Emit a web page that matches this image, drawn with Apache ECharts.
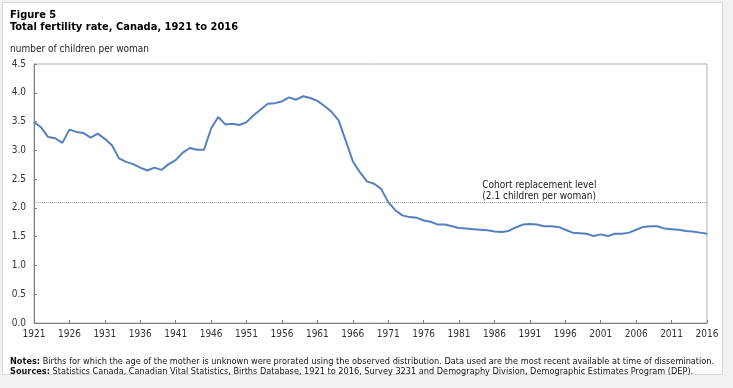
<!DOCTYPE html>
<html>
<head>
<meta charset="utf-8">
<script src="https://cdn.jsdelivr.net/npm/echarts@6/dist/echarts.min.js"></script>
<style>
html,body{margin:0;padding:0;background:#f2f2f2;}
#chart{position:absolute;left:0;top:0;width:733px;height:388px;}
</style>
</head>
<body>
<div id="chart"></div>
<script>
// Data
const firstYear = 1921;
const lastYear = 2016;
const years = [];
for (let y = firstYear; y <= lastYear; y++) years.push(String(y));
const fertilityRate = [
  3.49,3.40,3.23,3.21,3.13,3.36,3.32,3.30,3.22,3.29,
  3.20,3.09,2.86,2.80,2.76,2.70,2.65,2.70,2.66,2.76,
  2.83,2.96,3.04,3.01,3.01,3.38,3.58,3.45,3.46,3.44,
  3.49,3.61,3.71,3.81,3.82,3.85,3.92,3.88,3.94,3.91,
  3.86,3.77,3.67,3.52,3.17,2.81,2.62,2.46,2.42,2.33,
  2.10,1.96,1.87,1.84,1.83,1.78,1.76,1.71,1.71,1.68,
  1.65,1.64,1.63,1.62,1.61,1.59,1.58,1.60,1.66,1.71,
  1.72,1.71,1.68,1.68,1.67,1.62,1.57,1.56,1.55,1.51,
  1.54,1.51,1.55,1.55,1.57,1.62,1.67,1.68,1.68,1.64,
  1.63,1.62,1.60,1.59,1.57,1.55
];
const replacementLevel = 2.1;
const replacementLabel = ['Cohort replacement level', '(2.1 children per woman)'];
const replacementLabelYear = '1984';
const yTicks = [0, 0.5, 1, 1.5, 2, 2.5, 3, 3.5, 4, 4.5];
const titleLines = ['Figure 5', 'Total fertility rate, Canada, 1921 to 2016'];
const yAxisTitle = 'number of children per woman';
const notesText = 'Births for which the age of the mother is unknown were prorated using the observed distribution. Data used are the most recent available at time of dissemination.';
const sourcesText = 'Statistics Canada, Canadian Vital Statistics, Births Database, 1921 to 2016, Survey 3231 and Demography Division, Demographic Estimates Program (DEP).';

const FONT = '"DejaVu Sans Condensed", "DejaVu Sans", sans-serif';
const chart = echarts.init(document.getElementById('chart'), null, {renderer: 'canvas'});
chart.setOption({
  backgroundColor: 'transparent',
  animation: false,
  graphic: [
    {type: 'rect', left: 2, top: 2, shape: {width: 720, height: 372}, style: {fill: '#ffffff', stroke: '#d8d8d8', lineWidth: 1}, z: -10},
    {type: 'text', left: 10, top: 9, style: {text: titleLines.join('\n'), font: 'bold 11px ' + FONT, fill: '#000', lineHeight: 12}},
    {type: 'text', left: 10, top: 44, style: {text: yAxisTitle, font: '10px ' + FONT, fill: '#222'}},
    {type: 'text', left: 10, top: 357, style: {
      text: '{b|Notes:} ' + notesText + '\n{b|Sources:} ' + sourcesText,
      font: '9.1px ' + FONT, fill: '#111', lineHeight: 10,
      rich: {b: {font: 'bold 9.1px ' + FONT, fill: '#111'}}
    }}
  ],
  grid: {left: 34, right: 26, top: 64, bottom: 65, show: true, borderColor: '#b0b0b0', borderWidth: 1, containLabel: false},
  xAxis: {
    type: 'category', data: years, boundaryGap: false,
    axisLine: {show: true, lineStyle: {color: '#808080', width: 1}},
    axisTick: {show: true, inside: true, length: 3, interval: 4, lineStyle: {color: '#808080'}},
    axisLabel: {interval: 4, color: '#333', fontFamily: FONT, fontSize: 10, margin: 6},
    splitLine: {show: false}
  },
  yAxis: {
    type: 'value', min: 0, max: 4.5, interval: 0.5,
    axisLine: {show: true, lineStyle: {color: '#808080', width: 1}},
    axisTick: {show: true, inside: true, length: 3, lineStyle: {color: '#808080'}},
    axisLabel: {color: '#333', fontFamily: FONT, fontSize: 10, margin: 8, formatter: v => v.toFixed(1)},
    splitLine: {show: false}
  },
  series: [{
    type: 'line', data: fertilityRate, showSymbol: false, symbol: 'none',
    lineStyle: {color: '#5580c0', width: 2}, z: 5,
    markLine: {
      silent: true, symbol: 'none', animation: false,
      lineStyle: {color: '#999', type: 'dotted', width: 1},
      label: {show: false},
      data: [{yAxis: replacementLevel}]
    },
    markPoint: {
      silent: true, symbol: 'circle', symbolSize: 0,
      data: [{coord: [replacementLabelYear, replacementLevel]}],
      label: {
        show: true, position: [2, 0], align: 'left', verticalAlign: 'bottom',
        formatter: replacementLabel.join('\n'), color: '#222', fontFamily: FONT, fontSize: 10, lineHeight: 11
      }
    }
  }]
});
</script>
</body>
</html>
